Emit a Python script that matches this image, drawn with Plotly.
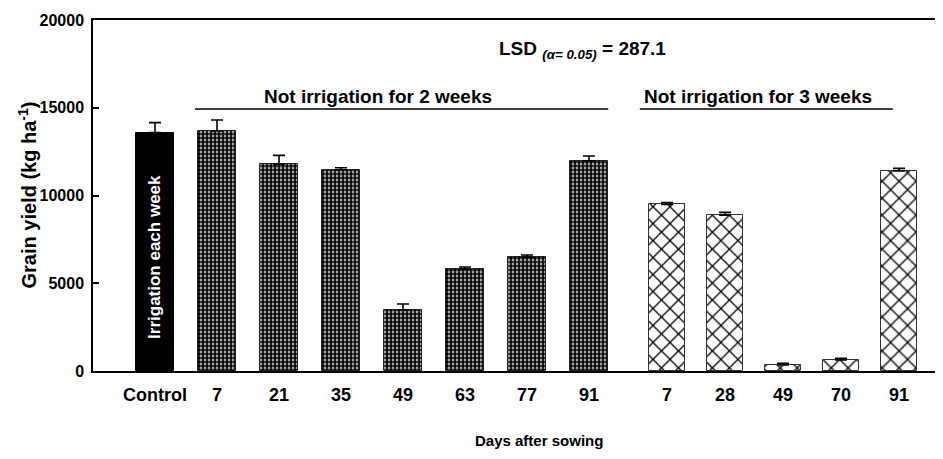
import numpy as np
import plotly.graph_objects as go

# ---- data ----
control_label = ["Control"]
control_yield = [13580]
control_err = [570]

weeks2_days = ["7", "21", "35", "49", "63", "77", "91"]
weeks2_yield = [13675, 11778, 11470, 3476, 5795, 6478, 11983]
weeks2_err = [625, 510, 115, 340, 130, 130, 270]

weeks3_days = ["7", "28", "49", "70", "91"]
weeks3_yield = [9490, 8880, 340, 627, 11396]
weeks3_err = [115, 160, 100, 95, 150]

y_ticks = [0, 5000, 10000, 15000, 20000]

# ---- layout positions (axis units) ----
x_ctrl = np.array([0.0])
x_w2 = np.arange(1, len(weeks2_days) + 1, dtype=float)
x_w3 = 8.26 + 0.935 * np.arange(len(weeks3_days))

FONT = "Liberation Sans, Arial, sans-serif"
# page body adds an 8px offset; compensate so the plot area sits at the same place
OFF = 8

fig = go.Figure()

fig.add_trace(go.Bar(
    x=x_ctrl, y=control_yield, width=0.6,
    marker=dict(color="black", line=dict(color="black", width=1)),
    error_y=dict(type="data", symmetric=False, array=control_err,
                 arrayminus=[0] * len(control_err), color="black",
                 thickness=1.6, width=6),
    showlegend=False,
))

fig.add_trace(go.Bar(
    x=x_w2, y=weeks2_yield, width=0.6,
    marker=dict(color="white",
                line=dict(color="#222222", width=1),
                pattern=dict(shape=".", size=4, solidity=0.7,
                             fgcolor="black", bgcolor="#dddddd", fillmode="replace")),
    error_y=dict(type="data", symmetric=False, array=weeks2_err,
                 arrayminus=[0] * len(weeks2_err), color="black",
                 thickness=1.6, width=6),
    showlegend=False,
))

fig.add_trace(go.Bar(
    x=x_w3, y=weeks3_yield, width=0.57,
    marker=dict(color="white",
                line=dict(color="#333333", width=1),
                pattern=dict(shape="x", size=12, solidity=0.2,
                             fgcolor="black", bgcolor="white", fillmode="replace")),
    error_y=dict(type="data", symmetric=False, array=weeks3_err,
                 arrayminus=[0] * len(weeks3_err), color="black",
                 thickness=1.6, width=6),
    showlegend=False,
))

tickvals = list(x_ctrl) + list(x_w2) + list(x_w3)
ticktext = control_label + weeks2_days + weeks3_days

fig.update_layout(
    width=943 - OFF, height=459 - OFF,
    margin=dict(l=93 - OFF, r=0, t=20 - OFF, b=88, autoexpand=False),
    plot_bgcolor="white", paper_bgcolor="white",
    font=dict(family=FONT, color="black"),
    bargap=0,
    xaxis=dict(
        range=[-1.0, 12.71], tickvals=tickvals, ticktext=ticktext,
        showline=True, linecolor="black", linewidth=1.5, mirror=True,
        showgrid=False, zeroline=False, ticks="",
        tickfont=dict(family=FONT, size=18, color="black", weight="bold"),
        ticklabelstandoff=7,
    ),
    yaxis=dict(
        range=[0, 20000], tickvals=y_ticks, ticktext=[str(v) for v in y_ticks],
        showline=True, linecolor="black", linewidth=1.5,
        showgrid=False, zeroline=False, ticks="inside", ticklen=6,
        tickcolor="black", tickwidth=1.5,
        tickfont=dict(family=FONT, size=16, color="black", weight="bold"),
        ticklabelstandoff=4,
    ),
)

# group lines and labels
fig.add_shape(type="line", xref="x", yref="y", x0=0.645, x1=7.31, y0=14930, y1=14930,
              line=dict(color="black", width=1.6))
fig.add_shape(type="line", xref="x", yref="y", x0=7.82, x1=11.9, y0=14930, y1=14930,
              line=dict(color="black", width=1.6))

fig.add_annotation(x=3.6, y=15650, xref="x", yref="y",
                   text="Not irrigation for 2 weeks", showarrow=False,
                   xanchor="center", yanchor="middle",
                   font=dict(family=FONT, size=19, color="black", weight="bold"))
fig.add_annotation(x=9.73, y=15650, xref="x", yref="y",
                   text="Not irrigation for 3 weeks", showarrow=False,
                   xanchor="center", yanchor="middle",
                   font=dict(family=FONT, size=19, color="black", weight="bold"))

fig.add_annotation(x=(582 - 93) / 850, y=(371 - 50) / 351, xref="paper", yref="paper",
                   text="LSD <sub><i>(α= 0.05)</i></sub> = 287.1", showarrow=False,
                   xanchor="center", yanchor="middle",
                   font=dict(family=FONT, size=19, color="black", weight="bold"))

fig.add_annotation(x=0, y=6500, xref="x", yref="y", text="Irrigation each week",
                   textangle=-90, showarrow=False, xanchor="center", yanchor="middle",
                   font=dict(family=FONT, size=17, color="white", weight="bold"))

fig.add_annotation(x=(27 - 93) / 850, y=0.5, xref="paper", yref="paper",
                   text="Grain yield (kg ha<sup>-1</sup>)", textangle=-90, showarrow=False,
                   xanchor="center", yanchor="middle",
                   font=dict(family=FONT, size=20, color="black", weight="bold"))

fig.add_annotation(x=(539 - 93) / 850, y=(371 - 440) / 351, xref="paper", yref="paper",
                   text="Days after sowing", showarrow=False,
                   xanchor="center", yanchor="middle",
                   font=dict(family=FONT, size=15, color="black", weight="bold"))

fig.write_html("out.html")
